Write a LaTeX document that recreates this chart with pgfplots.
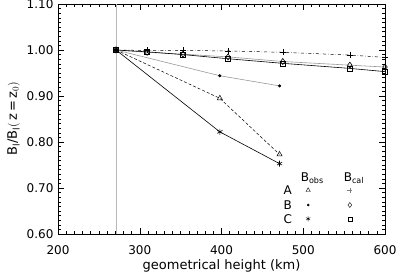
\documentclass[border=0pt]{standalone}
\usepackage{pgfplots}
\pgfplotsset{compat=1.18}
\usepackage{fontspec}
\setmainfont{DejaVu Sans}
\begin{document}
\begin{tikzpicture}
\begin{axis}[
  scale only axis,
  width=327pt, height=230pt,
  xmin=200, xmax=600, ymin=0.6, ymax=1.1,
  xtick={200,300,400,500,600},
  ytick={0.6,0.7,0.8,0.9,1.0,1.1},
  yticklabel style={xshift=-1pt, /pgf/number format/.cd,fixed,fixed zerofill,precision=2},
  /pgf/number format/assume math mode=true,
  minor x tick num=9, minor y tick num=9,
  tick align=inside,
  major tick length=6pt, minor tick length=3pt,
  tick style={black, line width=0.4pt},
  ticklabel style={font=\fontsize{12}{14}\selectfont},
  xticklabel style={yshift=-8pt},
  xlabel={geometrical height (km)},
  ylabel={B$_\mathrm{l}$/B$_\mathrm{l}\big($\,z\,=\,z$_0\big)$},
  label style={font=\fontsize{13}{15}\selectfont},
  xlabel style={yshift=2pt},
  axis line style={black, line width=0.5pt},
  clip=true,
]
\draw[gray!55, line width=0.6pt] (axis cs:271,0.6) -- (axis cs:271,1.1);
% B_cal
\addplot[black, dash dot, line width=0.5pt, mark=+, mark size=3pt, mark options={solid}] coordinates {(271,1.000)(309,0.999)(353,0.999)(408,0.998)(475,0.995)(557,0.989)(600,0.984)};
\addplot[gray!80, line width=0.6pt, mark=diamond, mark size=3pt, mark options={black,solid}] coordinates {(271,1.000)(309,0.995)(353,0.991)(408,0.985)(475,0.975)(557,0.967)(600,0.963)};
\addplot[black, line width=0.6pt, mark=square, mark size=2.5pt] coordinates {(271,1.000)(309,0.996)(353,0.990)(408,0.981)(475,0.971)(557,0.960)(600,0.953)};
% B_obs
\addplot[black, densely dashed, line width=0.5pt, mark=triangle, mark size=3pt, mark options={solid}] coordinates {(271,1.000)(398,0.895)(471,0.773)};
\addplot[gray!80, line width=0.6pt, mark=*, mark size=1.2pt, mark options={black}] coordinates {(271,1.000)(398,0.944)(471,0.922)};
\addplot[black, line width=0.6pt, mark=asterisk, mark size=3pt] coordinates {(271,1.000)(398,0.822)(471,0.753)};
% legend symbols
\addplot[only marks, black, mark=triangle, mark size=2.5pt] coordinates {(506,0.695)};
\addplot[only marks, black, mark=*, mark size=1.1pt] coordinates {(506,0.663)};
\addplot[only marks, black, mark=asterisk, mark size=2.5pt] coordinates {(506,0.633)};
\addplot[only marks, gray, mark=+, mark size=2.5pt] coordinates {(557,0.695)};
\addplot[only marks, black, mark=diamond, mark size=2.5pt] coordinates {(557,0.663)};
\addplot[only marks, black, mark=square, mark size=2pt] coordinates {(557,0.633)};
\node[font=\fontsize{12}{14}\selectfont] at (axis cs:511,0.722) {B$_{\mathrm{obs}}$};
\node[font=\fontsize{12}{14}\selectfont] at (axis cs:562,0.722) {B$_{\mathrm{cal}}$};
\node[font=\fontsize{12}{14}\selectfont] at (axis cs:481,0.695) {A};
\node[font=\fontsize{12}{14}\selectfont] at (axis cs:481,0.663) {B};
\node[font=\fontsize{12}{14}\selectfont] at (axis cs:481,0.633) {C};
\end{axis}
\pgfresetboundingbox
\path (current axis.south west) ++(-58pt,-41pt) coordinate (bl);
\path (current axis.north east) ++(14pt,4pt) coordinate (tr);
\path[use as bounding box] (bl) rectangle (tr);
\end{tikzpicture}
\end{document}
